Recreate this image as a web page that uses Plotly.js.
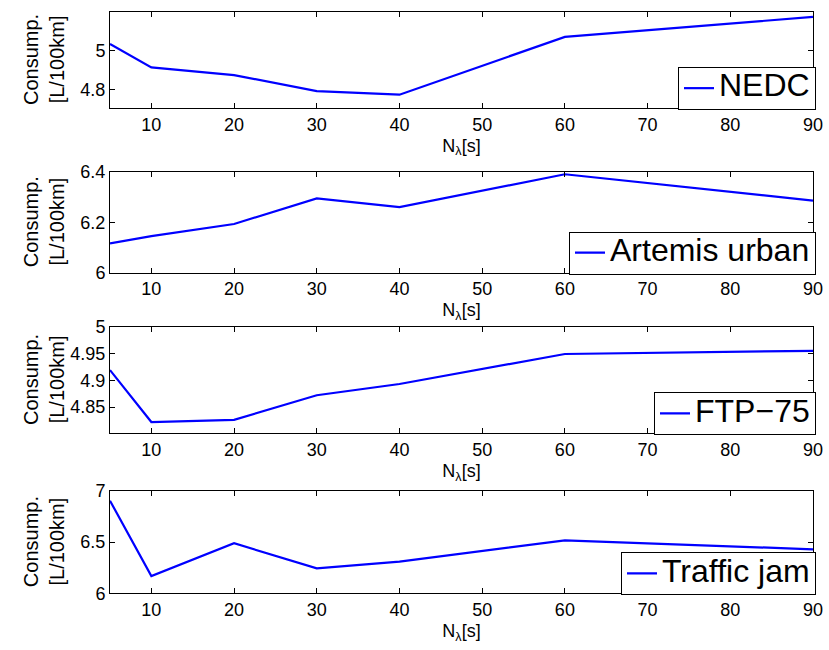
<!DOCTYPE html>
<html>
<head>
<meta charset="utf-8">
<script src="https://cdn.plot.ly/plotly-3.0.1.min.js"></script>
<style>html,body{margin:0;padding:0;background:#fff;}#chart{width:829px;height:650px;}</style>
</head>
<body>
<div id="chart"></div>
<script>
// ---- data ----
const horizon = [5, 10, 20, 30, 40, 60, 90];
const nedc = [5.032, 4.912, 4.873, 4.791, 4.773, 5.068, 5.170];
const artemisUrban = [6.116, 6.145, 6.193, 6.295, 6.260, 6.391, 6.286];
const ftp75 = [4.919, 4.822, 4.826, 4.872, 4.893, 4.949, 4.955];
const trafficJam = [6.905, 6.169, 6.489, 6.244, 6.309, 6.518, 6.430];
const seriesNames = ["NEDC", "Artemis urban", "FTP\u221275", "Traffic jam"];
const xTicks = [10, 20, 30, 40, 50, 60, 70, 80, 90];
const yTicks1 = [4.8, 5];
const yTickText1 = ["4.8", "5"];
const yTicks2 = [6, 6.2, 6.4];
const yTickText2 = ["6", "6.2", "6.4"];
const yTicks3 = [4.85, 4.9, 4.95, 5];
const yTickText3 = ["4.85", "4.9", "4.95", "5"];
const yTicks4 = [6, 6.5, 7];
const yTickText4 = ["6", "6.5", "7"];
const yTitle = "Consump.<br>[L/100km]";
const xTitle = "N<sub>\u03bb</sub>[s]";

// ---- layout geometry (pixels) ----
const W = 829, H = 650;
const FONT = "Liberation Sans, Arial, Helvetica, sans-serif";
const plotLeft = 110, plotRight = 813;
const panels = [
  {top: 12, bottom: 108, range: [4.705, 5.195], tv: yTicks1, tt: yTickText1, y: nedc},
  {top: 172, bottom: 272.5, range: [6, 6.4], tv: yTicks2, tt: yTickText2, y: artemisUrban},
  {top: 326.7, bottom: 433.3, range: [4.801, 5.0], tv: yTicks3, tt: yTickText3, y: ftp75},
  {top: 491, bottom: 593.3, range: [6, 7], tv: yTicks4, tt: yTickText4, y: trafficJam}
];

const traces = [];
const layout = {
  width: W, height: H,
  margin: {l: 0, r: 0, t: 0, b: 0},
  paper_bgcolor: "#fff", plot_bgcolor: "#fff",
  font: {family: FONT, size: 18, color: "#000"},
  showlegend: true,
  annotations: []
};

panels.forEach((p, i) => {
  const n = i === 0 ? "" : String(i + 1);
  const yd = [1 - p.bottom / H, 1 - p.top / H];
  const legName = "legend" + n;
  traces.push({
    x: horizon, y: p.y, type: "scatter", mode: "lines",
    name: '<span style="font-size:32px">' + seriesNames[i] + '</span>',
    line: {color: "#0000ff", width: 2.2},
    xaxis: "x" + n, yaxis: "y" + n,
    legend: legName
  });
  layout["xaxis" + n] = {
    domain: [plotLeft / W, plotRight / W],
    anchor: "y" + n,
    range: [5, 90],
    tickvals: xTicks,
    ticks: "inside", ticklen: 5, tickwidth: 1, tickcolor: "#000",
    showline: true, linecolor: "#000", linewidth: 1, mirror: "allticks",
    showgrid: false, zeroline: false,
    tickfont: {family: FONT, size: 18, color: "#000"},
    title: {text: xTitle, font: {family: FONT, size: 18, color: "#000"}, standoff: 5}
  };
  layout["yaxis" + n] = {
    domain: yd,
    anchor: "x" + n,
    range: p.range,
    tickvals: p.tv, ticktext: p.tt,
    ticks: "inside", ticklen: 5, tickwidth: 1, tickcolor: "#000",
    showline: true, linecolor: "#000", linewidth: 1, mirror: "allticks",
    showgrid: false, zeroline: false,
    tickfont: {family: FONT, size: 18, color: "#000"}
  };
  layout[legName] = {
    x: (plotRight + 3) / W, y: 1 - (p.bottom + 2) / H,
    xanchor: "right", yanchor: "bottom",
    bgcolor: "#fff", bordercolor: "#000", borderwidth: 1,
    font: {family: FONT, size: 21, color: "#000"},
    itemwidth: 30
  };
  layout.annotations.push({
    text: yTitle, textangle: -90,
    xref: "paper", yref: "paper",
    x: 44 / W, y: 1 - ((p.top + p.bottom) / 2) / H,
    xanchor: "center", yanchor: "middle",
    showarrow: false,
    font: {family: FONT, size: 20, color: "#000"}
  });
});

Plotly.newPlot("chart", traces, layout, {displayModeBar: false, staticPlot: true});
</script>
</body>
</html>
